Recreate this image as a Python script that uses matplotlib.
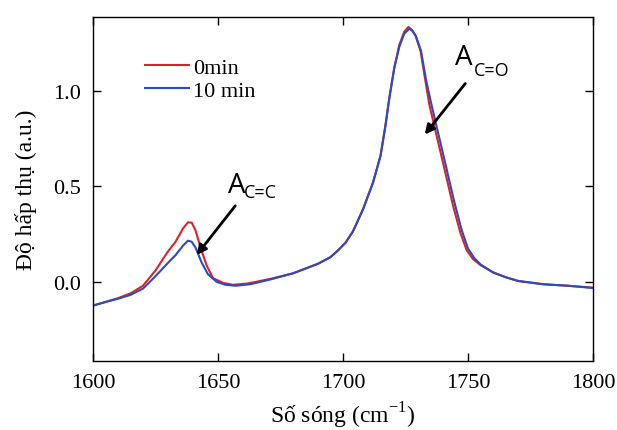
import matplotlib

matplotlib.use("Agg")
import matplotlib.pyplot as plt

# FTIR spectra
wn_0 = [1600, 1605, 1610, 1615, 1620, 1625, 1630, 1633, 1636, 1638, 1639.5, 1641,
        1643, 1645.5, 1648, 1652, 1656, 1662, 1671, 1680, 1690, 1695, 1698, 1701, 1704,
        1708, 1712, 1715, 1717, 1718.5, 1720.5, 1722.5, 1724.5, 1726.2, 1727.5, 1729, 1731,
        1733, 1734.5, 1737, 1739, 1741.5, 1744, 1747, 1749.5, 1752, 1755, 1760,
        1765, 1770, 1780, 1790, 1800]
abs_0 = [-0.124, -0.105, -0.085, -0.06, -0.02, 0.06, 0.16, 0.21, 0.28, 0.312, 0.31, 0.27,
         0.18, 0.085, 0.02, -0.005, -0.015, -0.008, 0.016, 0.045, 0.095, 0.13, 0.165, 0.205, 0.265,
         0.38, 0.52, 0.66, 0.82, 0.96, 1.12, 1.24, 1.31, 1.335, 1.32, 1.29, 1.21,
         1.05, 0.93, 0.79, 0.68, 0.54, 0.40, 0.255, 0.165, 0.12, 0.088, 0.05,
         0.025, 0.005, -0.012, -0.02, -0.03]

wn_10 = [1600, 1605, 1610, 1615, 1620, 1625, 1630, 1633, 1636, 1638, 1639.5, 1641,
         1643.5, 1646, 1649.5, 1653, 1657, 1663, 1671, 1680, 1690, 1695, 1698, 1701, 1704,
         1708, 1712, 1715, 1717, 1718.5, 1720.5, 1722.5, 1724.5, 1726.5, 1727.8, 1729.2, 1731.2,
         1733.2, 1735, 1737.5, 1739.5, 1742, 1744.5, 1747.5, 1750, 1752.5, 1755, 1760,
         1765, 1770, 1780, 1790, 1800]
abs_10 = [-0.124, -0.105, -0.088, -0.068, -0.035, 0.03, 0.10, 0.14, 0.19, 0.216, 0.21, 0.18,
          0.10, 0.04, 0.00, -0.015, -0.02, -0.012, 0.013, 0.045, 0.095, 0.13, 0.165, 0.205, 0.265,
          0.38, 0.52, 0.66, 0.82, 0.96, 1.12, 1.23, 1.30, 1.325, 1.315, 1.285, 1.21,
          1.06, 0.95, 0.81, 0.70, 0.56, 0.42, 0.27, 0.175, 0.125, 0.092, 0.05,
          0.025, 0.005, -0.012, -0.02, -0.032]

RED = "#d8232a"
BLUE = "#2a4bc4"

plt.rcParams["font.family"] = ["Liberation Serif", "DejaVu Serif"]

fig = plt.figure(figsize=(6.17, 4.31), dpi=100)
ax = fig.add_axes([93 / 617, 1 - 362 / 431, 500 / 617, 344 / 431])

ax.plot(wn_0, abs_0, color=RED, lw=1.5, label="0min")
ax.plot(wn_10, abs_10, color=BLUE, lw=1.5, label="10 min")

ax.set_xlim(1600, 1800)
ax.set_ylim(-0.414, 1.387)
ax.set_xticks([1600, 1650, 1700, 1750, 1800])
ax.set_yticks([0.0, 0.5, 1.0])
ax.set_yticklabels(["0.0", "0.5", "1.0"])
ax.tick_params(direction="in", top=True, right=True, length=6, width=1,
               labelsize=16, pad=9)
for s in ax.spines.values():
    s.set_linewidth(1)

ax.set_xlabel("Số sóng (cm$^{\\mathregular{-1}}$)", fontsize=17, labelpad=5)
ax.set_ylabel("Độ hấp thụ (a.u.)", fontsize=17, labelpad=11)

ax.legend(loc="upper left", bbox_to_anchor=(0.064, 0.94), frameon=False,
          fontsize=16, handlelength=2.0, handletextpad=0.15, labelspacing=0.1)

# peak labels: big "A" plus a smaller subscript, arrows pointing at the bands
big = dict(fontsize=20, family="Open Sans", va="baseline")
small = dict(fontsize=13, family="Open Sans", va="baseline")
arrow = dict(arrowstyle="-|>", color="black", lw=2, mutation_scale=14)

ax.annotate("", xy=(1640.8, 0.13), xytext=(1657.6, 0.41), arrowprops=arrow)
ax.text(1654, 0.471, "A", **big)
ax.text(1660.4, 0.445, "C=C", **small)

ax.annotate("", xy=(1732, 0.76), xytext=(1749.6, 1.05), arrowprops=arrow)
ax.text(1744.8, 1.141, "A", **big)
ax.text(1752.4, 1.084, "C=O", **small)

fig.savefig("out.png", dpi=100)
